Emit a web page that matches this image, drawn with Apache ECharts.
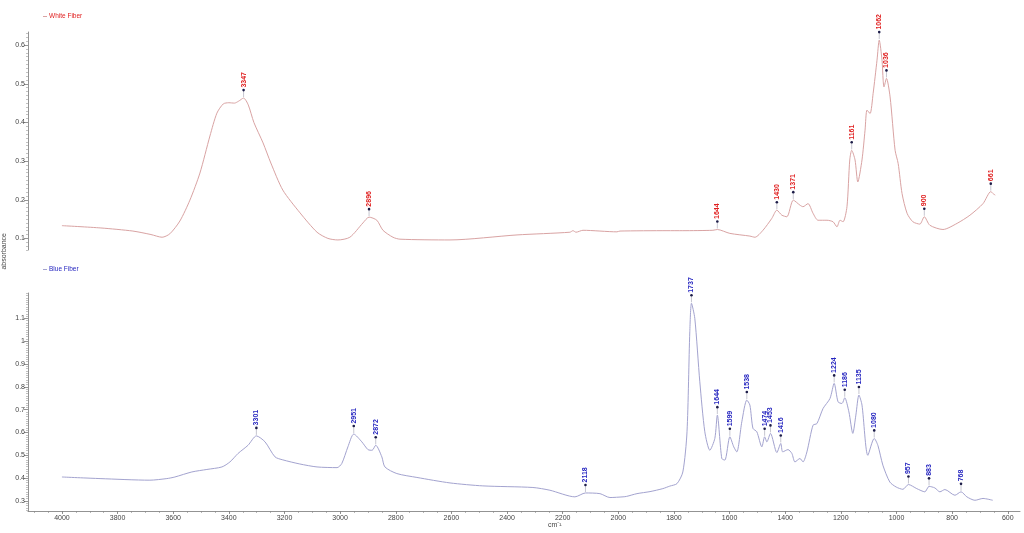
<!DOCTYPE html>
<html>
<head>
<meta charset="utf-8">
<script src="https://cdn.jsdelivr.net/npm/echarts@6/dist/echarts.min.js"></script>
<style>
html,body{margin:0;padding:0;background:#fff;}
#chart{width:1024px;height:533px;}
</style>
</head>
<body>
<div id="chart"></div>
<script>
// ---- Data ----
const whiteWavenumber = [4000,3860,3745,3680,3640,3612,3576,3540,3504,3468,3443,3420,3400,3380,3365,3347,3330,3310,3277,3249,3206,3144,3083,3044,3008,2965,2918,2896,2868,2846,2810,2785,2605,2364,2174,2163,2152,2127,2005,1994,1825,1768,1660,1644,1599,1527,1509,1480,1448,1430,1412,1394,1371,1347,1336,1318,1300,1282,1250,1228,1214,1203,1192,1178,1168,1161,1149,1139,1124,1113,1106,1095,1084,1070,1062,1052,1048,1045,1036,1023,1005,994,980,962,941,916,900,880,833,782,736,689,661,653,645];
const whiteAbsorbance = [0.133,0.127,0.119,0.110,0.103,0.112,0.145,0.199,0.269,0.365,0.424,0.448,0.451,0.450,0.455,0.463,0.445,0.400,0.347,0.295,0.225,0.166,0.116,0.100,0.096,0.103,0.140,0.155,0.147,0.121,0.103,0.098,0.096,0.109,0.116,0.120,0.116,0.121,0.117,0.119,0.120,0.120,0.121,0.123,0.113,0.106,0.103,0.121,0.152,0.173,0.160,0.156,0.199,0.186,0.182,0.190,0.165,0.147,0.147,0.143,0.130,0.147,0.143,0.182,0.303,0.328,0.303,0.246,0.303,0.380,0.432,0.423,0.475,0.561,0.613,0.561,0.510,0.492,0.514,0.466,0.328,0.294,0.216,0.165,0.143,0.137,0.156,0.134,0.123,0.139,0.160,0.190,0.221,0.216,0.212];

const blueWavenumber = [4000,3863,3684,3623,3594,3533,3479,3425,3396,3367,3331,3301,3270,3234,3206,3145,3083,3011,2994,2972,2951,2922,2900,2885,2872,2850,2839,2796,2724,2605,2487,2307,2246,2156,2118,2066,2030,1983,1970,1933,1886,1840,1815,1789,1768,1753,1743,1737,1725,1707,1689,1671,1653,1644,1628,1617,1599,1585,1574,1556,1538,1527,1516,1502,1484,1474,1466,1453,1430,1416,1409,1390,1376,1365,1347,1336,1322,1300,1286,1264,1239,1224,1210,1196,1186,1171,1157,1146,1135,1124,1103,1080,1067,1049,1024,1001,977,957,927,898,883,862,844,826,790,768,747,718,689,654];
const blueAbsorbance = [0.405,0.398,0.391,0.398,0.405,0.427,0.438,0.449,0.471,0.508,0.544,0.585,0.559,0.493,0.480,0.462,0.449,0.446,0.464,0.537,0.593,0.559,0.525,0.522,0.544,0.493,0.449,0.420,0.403,0.379,0.366,0.359,0.347,0.318,0.335,0.332,0.315,0.318,0.320,0.332,0.341,0.354,0.365,0.376,0.427,0.603,1.041,1.166,1.100,0.822,0.603,0.522,0.574,0.676,0.486,0.479,0.581,0.537,0.515,0.647,0.742,0.720,0.618,0.603,0.537,0.581,0.559,0.596,0.512,0.552,0.515,0.525,0.508,0.471,0.486,0.471,0.515,0.632,0.639,0.705,0.749,0.815,0.734,0.727,0.752,0.690,0.596,0.676,0.764,0.720,0.500,0.574,0.544,0.457,0.383,0.361,0.351,0.372,0.354,0.340,0.364,0.357,0.340,0.350,0.325,0.340,0.318,0.303,0.311,0.303];

const whitePeaks = [3347,2896,1644,1430,1371,1161,1062,1036,900,661];
const whitePeakAbs = [0.463,0.155,0.123,0.173,0.199,0.328,0.613,0.514,0.156,0.221];
const bluePeaks = [3301,2951,2872,2118,1737,1644,1599,1538,1474,1453,1416,1224,1186,1135,1080,957,883,768];
const bluePeakAbs = [0.585,0.593,0.544,0.335,1.166,0.676,0.581,0.742,0.581,0.596,0.552,0.815,0.752,0.764,0.574,0.372,0.364,0.340];

const xTickLabels = [4000,3800,3600,3400,3200,3000,2800,2600,2400,2200,2000,1800,1600,1400,1200,1000,800,600];
const yTopLabels = [0.1,0.2,0.3,0.4,0.5,0.6];
const yBottomLabels = [0.3,0.4,0.5,0.6,0.7,0.8,0.9,1,1.1];
const seriesNames = ['White Fiber','Blue Fiber'];

// ---- Styling / layout ----
const FONT = 'Liberation Sans, Arial, sans-serif';
const X_MIN = 556, X_MAX = 4122;
const TOP_MIN = 0.07, TOP_MAX = 0.634;
const BOT_MIN = 0.256, BOT_MAX = 1.211;
const whiteLine = '#d9a3a3', blueLine = '#a3a3cf';
const whiteText = '#e02020', blueText = '#2626c0';

function pairs(xs, ys){ return xs.map((x,i)=>[x, ys[i]]); }
function range(a,b,step){ const r=[]; for(let v=a; v<=b+1e-9; v+=step) r.push(+v.toFixed(4)); return r; }

const xMinorTicks = range(600, 4100, 50);
const yTopMinor = range(0.07, 0.63, 0.01);
const yBotMinor = range(0.26, 1.21, 0.01);

function peakRenderer(textColor){
  return function(params, api){
    const p = api.coord([api.value(0), api.value(1)]);
    const off = 8;
    return {
      type:'group',
      children:[
        {type:'line', shape:{x1:p[0], y1:p[1]-1, x2:p[0], y2:p[1]-off}, style:{stroke:'#a0a0b0', lineWidth:0.6}},
        {type:'circle', shape:{cx:p[0], cy:p[1]-off, r:1.3}, style:{fill:'#1c1c48'}},
        {type:'text', x:p[0], y:p[1]-off-2.5, rotation:Math.PI/2,
          style:{text:String(api.value(0)), fill:textColor, fontSize:7, fontWeight:'bold', fontFamily:FONT, align:'left', verticalAlign:'middle'}}
      ]
    };
  };
}

const axisLabelStyle = {fontSize:7, color:'#444', fontFamily:FONT};
const plain = v => String(v);

const option = {
  backgroundColor:'#fff',
  animation:false,
  grid:[
    {left:28, right:4, top:32, height:218},
    {left:28, right:4, top:293, height:218}
  ],
  xAxis:[
    {gridIndex:0, type:'value', inverse:true, min:X_MIN, max:X_MAX, show:false},
    {gridIndex:1, type:'value', inverse:true, min:X_MIN, max:X_MAX, position:'bottom',
      axisLine:{show:true, lineStyle:{color:'#777', width:0.8}},
      axisTick:{show:true, length:3, inside:false, customValues:xTickLabels, lineStyle:{color:'#777', width:0.8}},
      axisLabel:{show:true, customValues:xTickLabels, margin:4, formatter:plain, ...axisLabelStyle},
      splitLine:{show:false}},
    {gridIndex:1, type:'value', inverse:true, min:X_MIN, max:X_MAX, position:'bottom',
      axisLine:{show:false},
      axisTick:{show:true, length:2, customValues:xMinorTicks, lineStyle:{color:'#888', width:0.6}},
      axisLabel:{show:false}, splitLine:{show:false}}
  ],
  yAxis:[
    {gridIndex:0, type:'value', min:TOP_MIN, max:TOP_MAX, position:'left',
      axisLine:{show:true, lineStyle:{color:'#777', width:0.8}},
      axisTick:{show:true, length:4, customValues:yTopLabels, lineStyle:{color:'#777', width:0.8}},
      axisLabel:{show:true, customValues:yTopLabels, margin:3, formatter:plain, ...axisLabelStyle},
      splitLine:{show:false}},
    {gridIndex:1, type:'value', min:BOT_MIN, max:BOT_MAX, position:'left',
      axisLine:{show:true, lineStyle:{color:'#777', width:0.8}},
      axisTick:{show:true, length:4, customValues:yBottomLabels, lineStyle:{color:'#777', width:0.8}},
      axisLabel:{show:true, customValues:yBottomLabels, margin:3, formatter:plain, ...axisLabelStyle},
      splitLine:{show:false}},
    {gridIndex:0, type:'value', min:TOP_MIN, max:TOP_MAX, position:'left', offset:0,
      axisLine:{show:false}, axisLabel:{show:false}, splitLine:{show:false},
      axisTick:{show:true, length:2, customValues:yTopMinor, lineStyle:{color:'#999', width:0.6}}},
    {gridIndex:1, type:'value', min:BOT_MIN, max:BOT_MAX, position:'left', offset:0,
      axisLine:{show:false}, axisLabel:{show:false}, splitLine:{show:false},
      axisTick:{show:true, length:2, customValues:yBotMinor, lineStyle:{color:'#999', width:0.6}}}
  ],
  legend:[
    {data:[seriesNames[0]], left:43, top:13, icon:'rect', itemWidth:4, itemHeight:1, padding:0,
      textStyle:{fontSize:6.5, color:whiteText, fontFamily:FONT, padding:[0,0,0,-3]}},
    {data:[seriesNames[1]], left:43, top:266, icon:'rect', itemWidth:4, itemHeight:1, padding:0,
      textStyle:{fontSize:6.5, color:blueText, fontFamily:FONT, padding:[0,0,0,-3]}}
  ],
  graphic:[
    {type:'text', left:1, top:233, rotation:Math.PI/2,
      style:{text:'absorbance', font:'7px ' + FONT, fill:'#444'}},
    {type:'text', left:548, top:522,
      style:{text:'cm\u207B\u00B9', font:'7px ' + FONT, fill:'#444'}}
  ],
  series:[
    {name:seriesNames[0], type:'line', xAxisIndex:0, yAxisIndex:0, data:pairs(whiteWavenumber, whiteAbsorbance),
      showSymbol:false, smooth:0.25, lineStyle:{color:whiteLine, width:1}, itemStyle:{color:whiteLine}},
    {name:seriesNames[1], type:'line', xAxisIndex:1, yAxisIndex:1, data:pairs(blueWavenumber, blueAbsorbance),
      showSymbol:false, smooth:0.25, lineStyle:{color:blueLine, width:1}, itemStyle:{color:blueLine}},
    {type:'custom', xAxisIndex:0, yAxisIndex:0, data:pairs(whitePeaks, whitePeakAbs),
      renderItem:peakRenderer(whiteText), clip:false, z:5},
    {type:'custom', xAxisIndex:1, yAxisIndex:1, data:pairs(bluePeaks, bluePeakAbs),
      renderItem:peakRenderer(blueText), clip:false, z:5}
  ]
};

const chart = echarts.init(document.getElementById('chart'), null, {renderer:'canvas'});
chart.setOption(option);
</script>
</body>
</html>
